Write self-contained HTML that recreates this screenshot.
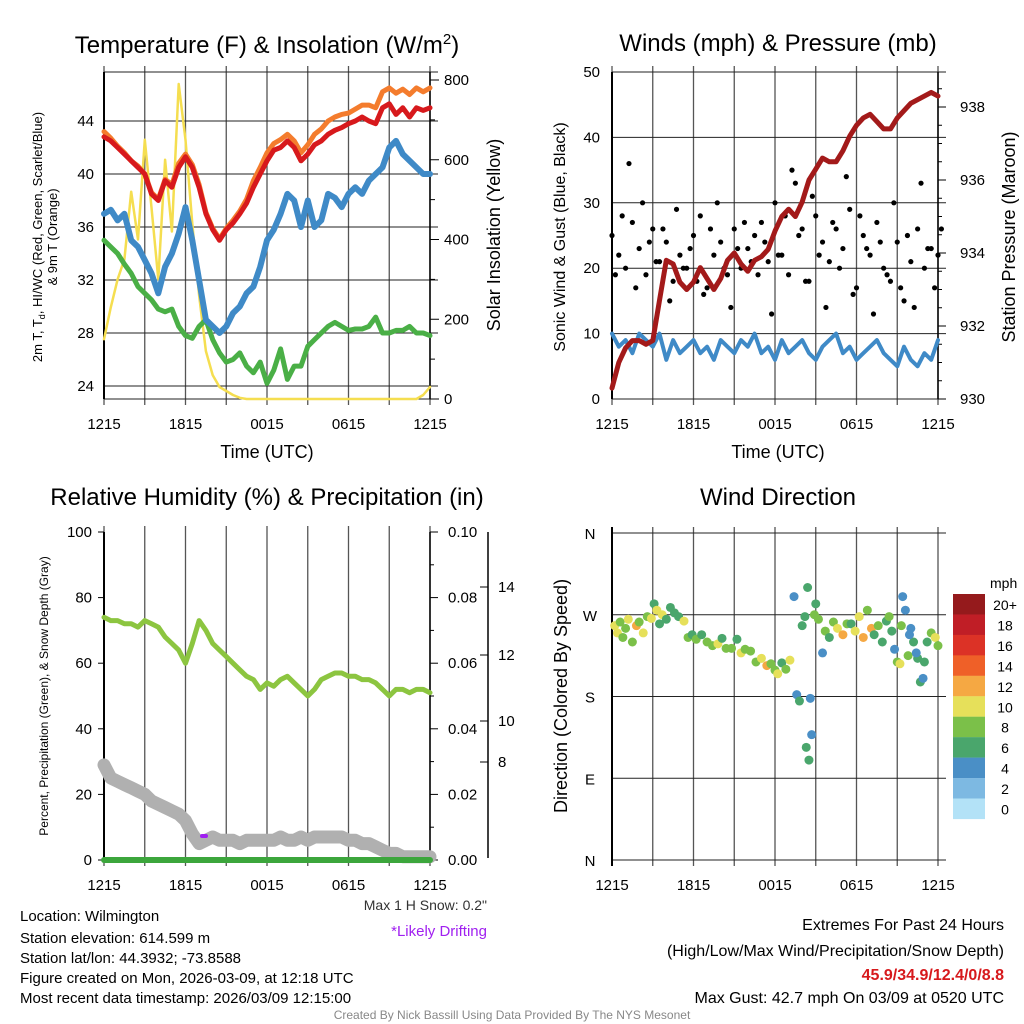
<!DOCTYPE html>
<html><head><meta charset="utf-8"><style>
body{margin:0;background:#fff;}
svg{display:block;font-family:"Liberation Sans",Arial,sans-serif;}
</style></head><body>
<svg id="s" width="1024" height="1024" viewBox="0 0 1024 1024" xmlns="http://www.w3.org/2000/svg">
<g font-size="24" text-anchor="middle">
<text x="267" y="53">Temperature (F) &amp; Insolation (W/m<tspan font-size="15" dy="-9">2</tspan><tspan dy="9">)</tspan></text>
<text x="778" y="51">Winds (mph) &amp; Pressure (mb)</text>
<text x="267" y="505">Relative Humidity (%) &amp; Precipitation (in)</text>
<text x="778" y="505">Wind Direction</text>
</g>
<g id="layer"></g>
<g font-size="15">
<text x="20" y="921">Location: Wilmington</text>
<text x="20" y="943">Station elevation: 614.599 m</text>
<text x="20" y="963">Station lat/lon: 44.3932; -73.8588</text>
<text x="20" y="983">Figure created on Mon, 2026-03-09, at 12:18 UTC</text>
<text x="20" y="1003">Most recent data timestamp: 2026/03/09 12:15:00</text>
</g>
<text x="487" y="910" font-size="14" text-anchor="end" fill="#333">Max 1 H Snow: 0.2"</text>
<text x="487" y="936" font-size="15" text-anchor="end" fill="#a020f0">*Likely Drifting</text>
<g font-size="16" text-anchor="end">
<text x="1004" y="930">Extremes For Past 24 Hours</text>
<text x="1004" y="956">(High/Low/Max Wind/Precipitation/Snow Depth)</text>
<text x="1004" y="980" fill="#d7191c" font-weight="bold">45.9/34.9/12.4/0/8.8</text>
<text x="1004" y="1003">Max Gust: 42.7 mph On 03/09 at 0520 UTC</text>
</g>
<text x="512" y="1019" font-size="12" text-anchor="middle" fill="#888">Created By Nick Bassill Using Data Provided By The NYS Mesonet</text>
</svg>
<script>
const timeLabels=["1215","1815","0015","0615","1215"];
const tempTicks=[24,28,32,36,40,44];
const solarTicks=[0,200,400,600,800];
const windTicks=[0,10,20,30,40,50];
const presTicks=[930,932,934,936,938];
const rhTicks=[0,20,40,60,80,100];
const precipTicks=["0.00","0.02","0.04","0.06","0.08","0.10"];
const dirLabels=["N","E","S","W","N"];
const speedBins=["0","2","4","6","8","10","12","14","16","18","20+"];
const tempRed=[42.8,42.5,42.0,41.5,41.0,40.5,40.0,38.5,38.0,39.5,39.0,40.5,41.3,40.5,39.0,37.0,35.8,35.0,35.8,36.3,37.0,37.8,39.0,40.0,41.0,41.8,42.0,42.5,42.0,41.0,41.5,42.2,42.5,43.0,43.3,43.5,43.8,44.0,44.3,44.0,43.8,45.0,45.3,44.5,45.0,44.3,45.0,44.8,45.0];
const tempOrange=[43.2,42.7,42.1,41.6,41.0,40.6,40.0,38.6,38.1,39.6,39.2,40.8,41.5,40.7,39.2,37.1,35.9,35.1,35.9,36.5,37.2,38.1,39.5,40.5,41.6,42.3,42.6,43.0,42.5,41.6,42.2,43.0,43.4,44.0,44.3,44.5,44.6,44.9,45.2,45.2,45.0,46.2,46.5,46.1,46.4,46.0,46.5,46.2,46.5];
const tempBlue=[37,37.3,36.5,37,35,34.5,33.5,32.5,31,33,34,35.5,37.5,35,32,29,28.5,28,28.5,29.5,30,31,31.5,33,35,35.8,37,38.5,38,36,38,36,36.5,38.5,38.2,37.5,38.5,39,38.5,39.5,40,40.5,42,42.5,41.5,41,40.5,40,40];
const tempGreen=[35,34.5,34,33.2,32.5,31.5,31,30.5,29.8,29.6,29.8,28.5,27.8,27.6,28.5,29,27.5,26.5,25.8,26,26.5,25.5,25,25.8,24.2,25.2,26.8,24.5,25.5,25.5,27,27.5,28,28.5,28.8,28.5,28.2,28.3,28.3,28.5,29.2,28,28,28.2,28.2,28.5,28,28,27.8];
const solar=[150,230,300,350,520,400,650,480,300,600,420,790,650,440,260,120,60,30,20,10,3,0,0,0,0,0,0,0,0,0,0,0,0,0,0,0,0,0,0,0,0,0,0,0,0,0,0,10,30];
const windSpeed=[10,8,9,7,10,9,8,10,6,9,7,8,9,7,8,6,9,8,7,9,8,10,7,8,6,9,7,8,9,7,6,8,9,10,7,8,6,7,8,9,7,6,5,8,6,5,7,6,9];
const gustA=[25,22,20,27,23,19,26,21,24,18,22,20,25,28,17,22,24,19,26,20,23,25,27,21,30,22,19,33,26,18,28,24,21,26,23,29,17,25,22,27,20,18,24,15,21,26,20,23,22];
const gustB=[19,28,36,17,30,24,21,26,15,29,20,23,18,16,26,30,20,14,23,27,21,19,24,13,22,28,35,25,18,31,22,14,27,20,34,16,28,23,13,24,19,30,17,25,14,33,23,17,26];
const pressure=[930.3,931.0,931.4,931.6,931.6,931.5,931.6,932.7,933.8,933.7,933.2,933.0,933.2,933.6,933.3,933.0,933.3,933.8,934.0,933.7,933.5,933.8,933.9,934.1,934.6,935.0,935.2,935.0,935.4,936.0,936.3,936.6,936.5,936.5,936.8,937.2,937.5,937.7,937.8,937.6,937.4,937.4,937.7,937.9,938.1,938.2,938.3,938.4,938.3];
const rh=[74,73,73,72,72,71,73,72,71,68,66,64,60,66,73,70,66,64,62,60,58,56,55,52,54,53,55,56,54,52,50,52,55,56,57,57,56,56,55,55,54,52,50,52,52,51,52,52,51];
const snowDepth=[29,25,24,23,22,21,20,18,17,16,15,14,12,8,5,6,7,6,6,6,5,6,6,6,6,6,7,6,6,7,6,7,7,7,7,7,6,6,5,5,4,3,2,2,1,1,1,1,1];
const precip=[0,0,0,0,0,0,0,0,0,0,0,0,0,0,0,0,0,0,0,0,0,0,0,0,0,0,0,0,0,0,0,0,0,0,0,0,0,0,0,0,0,0,0,0,0,0,0,0,0];
const dirHour=[0.2,0.4,0.6,0.8,1.0,1.2,1.5,1.8,2.0,2.3,2.6,2.9,3.1,3.3,3.5,3.7,4.0,4.3,4.6,4.9,5.3,5.6,5.9,6.2,6.6,7.0,7.4,7.8,8.1,8.4,8.8,9.2,9.5,9.8,10.2,10.6,11.0,11.4,11.7,12.0,12.2,12.5,12.8,13.1,13.4,13.6,13.8,14.0,14.2,14.3,14.4,14.5,14.6,14.7,14.9,15.0,15.2,15.5,15.7,16.0,16.3,16.6,17.0,17.3,17.6,17.9,18.2,18.5,18.8,19.1,19.3,19.6,19.9,20.2,20.4,20.6,20.8,21.0,21.2,21.4,21.6,21.8,22.0,22.2,22.5,22.7,22.9,23.2,23.5,23.8,24.0,21.3,21.9,22.4,23.0];
const dirDeg=[258,250,262,245,255,265,240,258,262,250,268,266,282,275,260,270,265,278,272,268,263,245,248,243,248,240,236,238,244,233,233,243,228,232,230,218,222,214,216,209,205,217,210,220,290,182,175,258,268,124,300,110,178,138,270,282,265,228,252,245,262,255,248,260,260,252,268,245,275,255,248,258,240,263,268,252,232,218,216,290,275,225,255,240,222,196,200,240,250,245,236,258,248,228,218];
const dirSpeed=[10,11,9,8,9,10,8,12,9,10,8,11,7,10,7,11,6,6,7,6,10,8,7,8,6,8,8,10,7,8,9,6,10,8,9,8,10,13,8,9,10,6,9,10,4,4,6,7,6,6,6,6,4,4,8,6,9,4,8,6,9,10,13,8,7,10,10,13,8,12,6,8,7,7,8,6,5,8,10,4,4,8,4,6,7,6,4,7,8,10,9,8,4,4,7];

const NS="http://www.w3.org/2000/svg";
const layer=document.getElementById('layer');
function mk(tag,attrs,parent){const e=document.createElementNS(NS,tag);for(const k in attrs)e.setAttribute(k,attrs[k]);(parent||layer).appendChild(e);return e;}
function txt(x,y,s,attrs,parent){const e=mk('text',Object.assign({x:x,y:y},attrs||{}),parent);e.textContent=s;return e;}
function lin(d0,d1,r0,r1){return v=>r0+(v-d0)*(r1-r0)/(d1-d0);}
const TF=15;

function panel(L,R,T,B,name){
  const g=mk('g',{});
  
  
  const xh=lin(0,24,L,R);
  for(let h=0;h<=24;h+=3){const x=xh(h);const l=mk('line',{x1:x,x2:x,y1:T-6,y2:B+6,stroke:'#555','stroke-width':1.3},g);}
  timeLabels.forEach((s,i)=>{const t=txt(xh(i*6),B+30,s,{'font-size':TF,'text-anchor':'middle'},g);});
  return {g:g,xh:xh,xi:lin(0,48,L,R)};
}
function hgrid(g,L,R,ys){ys.forEach(y=>{const l=mk('line',{x1:L,x2:R+8,y1:y,y2:y,stroke:'#222','stroke-width':1},g);});}
function path(g,arr,xf,yf,color,w,name){let d='';arr.forEach((v,i)=>{d+=(i?'L':'M')+xf(i).toFixed(1)+','+yf(v).toFixed(1);});const p=mk('path',{d:d,fill:'none',stroke:color,'stroke-width':w,'stroke-linejoin':'round','stroke-linecap':'round'},g);return p;}

{const L=104,R=430,T=72,B=399;const P=panel(L,R,T,B,'temperature-panel');const g=P.g;
 const yt=lin(24,44,386,121), ys=lin(0,800,399,80);
 hgrid(g,L,R,tempTicks.map(yt).concat([T,B]));
 mk('line',{x1:L,x2:L,y1:T,y2:B,stroke:'#000','stroke-width':2},g);
 tempTicks.forEach(v=>{const t=txt(L-10,yt(v)+5,String(v),{'font-size':TF,'text-anchor':'end'},g);});
 for(let v=0;v<=800;v+=100){mk('line',{x1:R,x2:R+(v%200?5:9),y1:ys(v),y2:ys(v),stroke:'#000'},g);}
 mk('line',{x1:R,x2:R,y1:T,y2:B,stroke:'#000','stroke-width':1.5},g);
 solarTicks.forEach(v=>{const t=txt(R+14,ys(v)+5,String(v),{'font-size':TF},g);});
 path(g,solar,P.xi,ys,'#f5de50',2.5,'solar-line');
 path(g,tempGreen,P.xi,yt,'#4aaf46',5,'dewpoint-line');
 path(g,tempBlue,P.xi,yt,'#3f8ac7',6,'windchill-line');
 path(g,tempOrange,P.xi,yt,'#f47c2d',5,'temp-9m-line');
 path(g,tempRed,P.xi,yt,'#d7191c',5,'temp-2m-line');
 const a=txt(267,458,'Time (UTC)',{'font-size':18,'text-anchor':'middle'},g);
 const y1=txt(0,0,'2m T, T',{'font-size':13,'text-anchor':'middle',transform:'translate(42,237) rotate(-90)'},g);
 const ts=mk('tspan',{'font-size':9,dy:3},y1);ts.textContent='d';const ts2=mk('tspan',{dy:-3},y1);ts2.textContent=', HI/WC (Red, Green, Scarlet/Blue)';
 
 const y2=txt(0,0,'& 9m T (Orange)',{'font-size':13,'text-anchor':'middle',transform:'translate(57,237) rotate(-90)'},g);
 const y3=txt(0,0,'Solar Insolation (Yellow)',{'font-size':18,'text-anchor':'middle',transform:'translate(500,235) rotate(-90)'},g);
}
{const L=612,R=938,T=72,B=399;const P=panel(L,R,T,B,'winds-panel');const g=P.g;
 const yw=lin(0,50,399,72), yp=lin(930,938,399,107);
 hgrid(g,L,R,windTicks.map(yw));
 mk('line',{x1:L,x2:L,y1:T,y2:B,stroke:'#000','stroke-width':2},g);
 windTicks.forEach(v=>{const t=txt(L-12,yw(v)+5,String(v),{'font-size':TF,'text-anchor':'end'},g);});
 for(let v=930;v<=938.5;v+=0.5){mk('line',{x1:R,x2:R+(v%2?4:8),y1:yp(v),y2:yp(v),stroke:'#000'},g);}
 mk('line',{x1:R,x2:R,y1:T,y2:B,stroke:'#000','stroke-width':1.5},g);
 presTicks.forEach(v=>{const t=txt(R+22,yp(v)+5,String(v),{'font-size':TF},g);});
 path(g,windSpeed,P.xi,yw,'#3f8ac7',4,'sonic-wind-line');
 gustA.forEach((v,i)=>{const c=mk('circle',{cx:P.xi(i),cy:yw(v),r:2.6,fill:'#000'},g);});
 gustB.forEach((v,i)=>{const c=mk('circle',{cx:P.xi(i+0.5),cy:yw(v),r:2.6,fill:'#000'},g);});
 path(g,pressure,P.xi,yp,'#a31a1a',5,'pressure-line');
 const a=txt(778,458,'Time (UTC)',{'font-size':18,'text-anchor':'middle'},g);
 const y1=txt(0,0,'Sonic Wind & Gust (Blue, Black)',{'font-size':16,'text-anchor':'middle',transform:'translate(565,237) rotate(-90)'},g);
 const y2=txt(0,0,'Station Pressure (Maroon)',{'font-size':18,'text-anchor':'middle',transform:'translate(1015,237) rotate(-90)'},g);
}
{const L=104,R=430,T=532,B=860;const P=panel(L,R,T,B,'humidity-panel');const g=P.g;
 const yr=lin(0,100,860,532);
 mk('line',{x1:L,x2:L,y1:T,y2:B,stroke:'#000','stroke-width':2},g);
 rhTicks.forEach(v=>{mk('line',{x1:L-6,x2:L,y1:yr(v),y2:yr(v),stroke:'#000'},g);const t=txt(L-12,yr(v)+5,String(v),{'font-size':TF,'text-anchor':'end'},g);});
 for(let v=0;v<=100;v+=10){mk('line',{x1:R,x2:R+(v%20?4:8),y1:yr(v),y2:yr(v),stroke:'#000'},g);}
 mk('line',{x1:R,x2:R,y1:T,y2:B,stroke:'#000','stroke-width':1.5},g);
 precipTicks.forEach((s,i)=>{const t=txt(R+18,yr(i*20)+5,s,{'font-size':TF},g);});
 mk('line',{x1:488,x2:488,y1:532,y2:858,stroke:'#000','stroke-width':1.5},g);
 [[587,'14'],[655,'12'],[721,'10'],[762,'8']].forEach(p=>{mk('line',{x1:480,x2:488,y1:p[0],y2:p[0],stroke:'#000'},g);const t=txt(498,p[0]+5,p[1],{'font-size':TF},g);});
 path(g,snowDepth,P.xi,yr,'#b0b0b0',13,'snow-depth-line');
 path(g,rh,P.xi,yr,'#8cc540',5,'rh-line');
 path(g,precip,P.xi,yr,'#3ca63c',6,'precip-line');
 const m=mk('rect',{x:200,y:834,width:8,height:4,rx:2,fill:'#a020f0'},g);
 const y1=txt(0,0,'Percent, Precipitation (Green), & Snow Depth (Gray)',{'font-size':12,'text-anchor':'middle',transform:'translate(48,696) rotate(-90)'},g);
}
{const L=612,R=938,T=533,B=860;const P=panel(L,R,T,B,'wind-direction-panel');const g=P.g;
 const yd=lin(0,360,860,533);
 hgrid(g,L,R,[0,90,180,270,360].map(yd));
 mk('line',{x1:L,x2:L,y1:T-6,y2:B+6,stroke:'#000','stroke-width':2},g);
 dirLabels.forEach((s,i)=>{const t=txt(L-22,yd(i*90)+6,s,{'font-size':TF,'text-anchor':'middle'},g);});
 const cols=['#b3e2f7','#7db9e2','#4a8fc6','#4aa66c','#7bc049','#e6e05a','#f5a843','#ef6028','#dc3226','#c01e26','#951a1c'];
 dirHour.forEach((h,i)=>{const c=mk('circle',{cx:P.xh(h),cy:yd(dirDeg[i]),r:4.5,fill:cols[Math.min(10,Math.floor(dirSpeed[i]/2))]},g);});
 const y1=txt(0,0,'Direction (Colored By Speed)',{'font-size':18,'text-anchor':'middle',transform:'translate(567,696) rotate(-90)'},g);
 const lg=mk('g',{},g);
 txt(990,588,'mph',{'font-size':14},lg);
 speedBins.forEach((s,i)=>{const k=10-i;const y=594+i*20.45;const r=mk('rect',{x:953,y:y,width:32,height:20.6,fill:cols[k]},lg);txt(1005,y+16,speedBins[k],{'font-size':14,'text-anchor':'middle'},lg);});
}
</script>
</body></html>
